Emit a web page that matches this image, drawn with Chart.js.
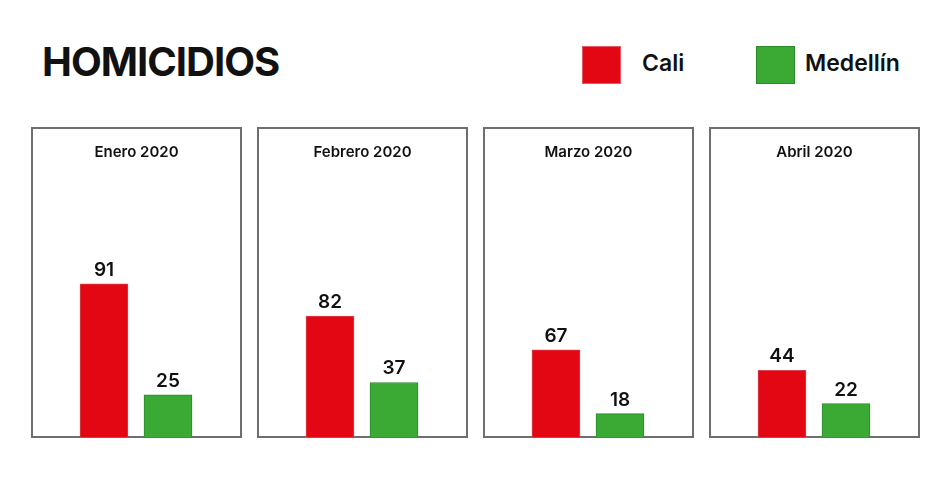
<!DOCTYPE html>
<html>
<head>
<meta charset="utf-8">
<script src="https://cdn.jsdelivr.net/npm/chart.js@4"></script>
<style>
  html, body { margin:0; padding:0; background:#fff; }
  body { width:950px; height:482px; position:relative; overflow:hidden; font-family: Inter, "Open Sans", sans-serif; color:#111; }
  #title { position:absolute; left:42px; top:42px; font-size:40px; line-height:40px; font-weight:700; letter-spacing:-1px; }
  .sw { position:absolute; top:46px; width:39px; height:38px; box-sizing:border-box; }
  .lg { position:absolute; top:52px; font-size:23px; line-height:23px; font-weight:600; }
  .panel { position:absolute; top:127px; width:211px; height:311px; border:2px solid #6e6e6e; box-sizing:border-box; }
  .panel canvas { position:absolute; left:0; top:0; }
  .ptitle { position:absolute; left:0; right:0; top:15px; text-align:center; font-size:15px; line-height:15px; font-weight:600; }
</style>
</head>
<body>
<div id="title">HOMICIDIOS</div>
<div class="sw" style="left:582px;background:#E30613;border:1px solid #e65a62;"></div>
<div class="lg" style="left:642px;">Cali</div>
<div class="sw" style="left:756px;background:#3AAA35;border:1px solid #2c8a2a;"></div>
<div class="lg" style="left:805px;">Medellín</div>
<div id="panels"></div>
<script>
// ---- data ----
const months = ["Enero 2020", "Febrero 2020", "Marzo 2020", "Abril 2020"];
const seriesNames = ["Cali", "Medellín"];
const cali = [91, 82, 67, 44];
const medellin = [25, 37, 18, 22];

// ---- presentation ----
const panelLeft = [31, 257, 483, 709];
const axisMax = [183, 209, 237, 203];
const colors = ["#E30613", "#3AAA35"];
const borders = ["#d8434c", "#2c8a2a"];

const valueLabels = {
  id: "valueLabels",
  afterDatasetsDraw(chart) {
    const ctx = chart.ctx;
    ctx.save();
    ctx.font = "600 19px Inter, sans-serif";
    ctx.fillStyle = "#111";
    ctx.textAlign = "center";
    ctx.textBaseline = "alphabetic";
    chart.getDatasetMeta(0).data.forEach((bar, i) => {
      ctx.fillText(String(chart.data.datasets[0].data[i]), bar.x, bar.y - 8);
    });
    ctx.restore();
  }
};

const host = document.getElementById("panels");
months.forEach((m, i) => {
  const p = document.createElement("div");
  p.className = "panel";
  p.style.left = panelLeft[i] + "px";
  const t = document.createElement("div");
  t.className = "ptitle";
  t.textContent = m;
  const c = document.createElement("canvas");
  c.width = 207; c.height = 308;
  c.style.width = "207px"; c.style.height = "308px";
  p.appendChild(c);
  p.appendChild(t);
  host.appendChild(p);
  new Chart(c, {
    type: "bar",
    data: {
      labels: seriesNames,
      datasets: [{
        data: [cali[i], medellin[i]],
        backgroundColor: colors,
        borderColor: borders,
        borderWidth: 1,
        barThickness: 48
      }]
    },
    options: {
      responsive: false,
      animation: false,
      layout: { padding: { left: 39, right: 40, top: 0, bottom: 0 } },
      plugins: { legend: { display: false }, tooltip: { enabled: false }, title: { display: false } },
      scales: {
        x: { display: false, offset: true },
        y: { display: false, min: 0, max: axisMax[i] }
      }
    },
    plugins: [valueLabels]
  });
});
</script>
</body>
</html>
